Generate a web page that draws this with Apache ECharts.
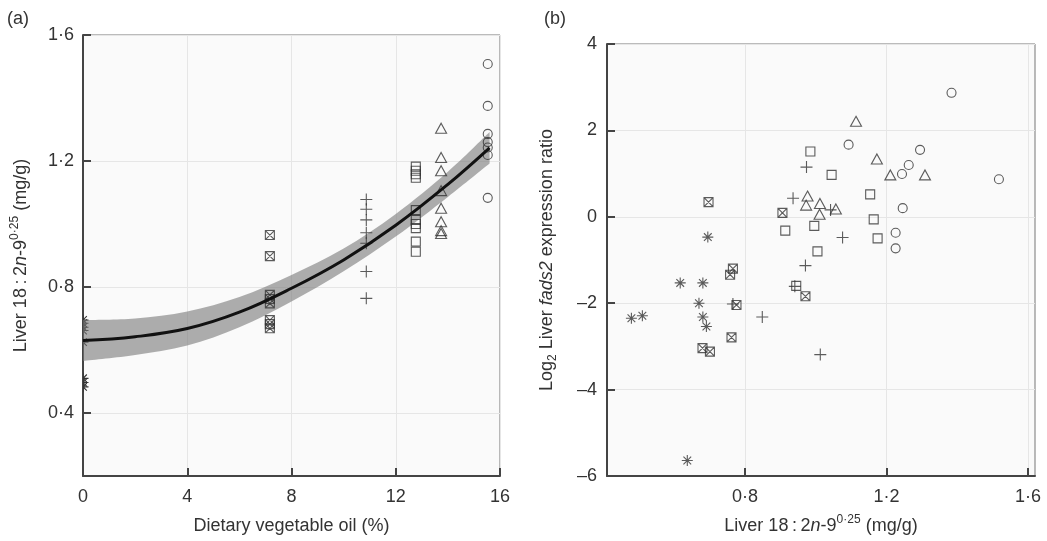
<!DOCTYPE html>
<html lang="en">
<head>
    <meta charset="UTF-8">
    <title>Liver 18:2n-9</title>
    <style>
        html, body { margin: 0; padding: 0; background: #fff; }
        .chart { width: 1047px; height: 541px; }
    </style>
</head>
<body>
    <div class="chart"></div>
    <script src="https://cdn.jsdelivr.net/npm/echarts@6/dist/echarts.min.js"></script>
    <script>
        // (a) oil level of each diet group, then liver 18:2n-9^0.25 per fish
        const oilLevels = [0, 7.17, 10.87, 12.77, 13.74, 15.53]
        const liverAsterisk = [0.695, 0.685, 0.672, 0.662, 0.625, 0.510, 0.497, 0.483]
        const liverXSquare = [0.965, 0.898, 0.775, 0.762, 0.748, 0.695, 0.682, 0.669]
        const liverPlus = [1.078, 1.047, 1.013, 0.972, 0.939, 0.849, 0.764]
        const liverSquare = [1.182, 1.169, 1.158, 1.147, 1.044, 1.013, 1.000, 0.987, 0.944, 0.912]
        const liverTriangle = [1.304, 1.211, 1.169, 1.106, 1.050, 1.007, 0.979, 0.970]
        const liverCircle = [1.508, 1.375, 1.286, 1.260, 1.243, 1.219, 1.083]

        // fitted curve with its confidence band
        const fitOil = [0, 2, 4, 6, 8, 10, 12, 14, 15.6]
        const fitMid = [0.630, 0.642, 0.668, 0.720, 0.796, 0.886, 0.996, 1.126, 1.242]
        const fitUpper = [0.695, 0.700, 0.722, 0.768, 0.838, 0.922, 1.032, 1.166, 1.292]
        const fitLower = [0.565, 0.584, 0.614, 0.672, 0.754, 0.850, 0.960, 1.086, 1.192]

        // (b) liver 18:2n-9^0.25 vs log2 fads2 ratio
        const bCircleX = [1.384, 1.093, 1.295, 1.263, 1.244, 1.518, 1.246, 1.226, 1.226]
        const bCircleY = [2.87, 1.67, 1.55, 1.20, 0.99, 0.87, 0.20, -0.37, -0.73]
        const bTriangleX = [1.114, 1.173, 1.211, 1.309, 0.977, 0.973, 1.012, 1.011, 1.057]
        const bTriangleY = [2.21, 1.34, 0.97, 0.97, 0.48, 0.27, 0.31, 0.06, 0.18]
        const bSquareX = [0.985, 1.045, 1.154, 1.164, 0.914, 0.996, 1.175, 1.005, 0.945]
        const bSquareY = [1.51, 0.97, 0.52, -0.06, -0.32, -0.21, -0.50, -0.80, -1.60]
        const bPlusX = [0.974, 0.936, 1.042, 1.076, 0.971, 0.941, 0.849, 1.013, 0.766]
        const bPlusY = [1.15, 0.43, 0.16, -0.48, -1.13, -1.61, -2.32, -3.19, -2.02]
        const bXSquareX = [0.697, 0.906, 0.766, 0.758, 0.776, 0.762, 0.680, 0.701, 0.971]
        const bXSquareY = [0.34, 0.09, -1.20, -1.34, -2.04, -2.79, -3.04, -3.12, -1.84]
        const bAsteriskX = [0.695, 0.617, 0.681, 0.670, 0.479, 0.510, 0.681, 0.691, 0.637]
        const bAsteriskY = [-0.47, -1.53, -1.53, -2.00, -2.35, -2.29, -2.32, -2.54, -5.64]

        const FONT = '"Liberation Sans", Arial, sans-serif'
        const INK = '#333'
        const ASTERISK = 'M5,0L5,10M0,5L10,5M1.5,1.5L8.5,8.5M1.5,8.5L8.5,1.5'

        const SYM = {
            circle: { symbol: 'circle', size: 9 },
            triangle: { symbol: 'path://M5,0L10,8.66L0,8.66Z', size: [11, 10] },
            square: { symbol: 'path://M0,0L10,0L10,10L0,10Z', size: 9 },
            plus: { symbol: 'path://M5,0L5,10M0,5L10,5', size: 12 },
            xsquare: { symbol: 'path://M0,0L10,0L10,10L0,10ZM0,0L10,10M0,10L10,0', size: 9 },
            asterisk: { symbol: 'path://' + ASTERISK, size: 11 }
        }

        function scatter (idx, kind, data) {
            return {
                type: 'scatter',
                xAxisIndex: idx,
                yAxisIndex: idx,
                symbol: SYM[kind].symbol,
                symbolSize: SYM[kind].size,
                itemStyle: { color: 'rgba(0,0,0,0)', borderColor: INK, borderWidth: 1.1 },
                silent: true,
                data
            }
        }

        // catmull-rom segments through pixel points (for the band outline)
        function curveTo (pts) {
            let d = ''
            for (let i = 0; i < pts.length - 1; i++) {
                const p0 = pts[i - 1] || pts[i]
                const p1 = pts[i]
                const p2 = pts[i + 1]
                const p3 = pts[i + 2] || p2
                const c1 = [p1[0] + (p2[0] - p0[0]) / 6, p1[1] + (p2[1] - p0[1]) / 6]
                const c2 = [p2[0] - (p3[0] - p1[0]) / 6, p2[1] - (p3[1] - p1[1]) / 6]
                d += `C${c1[0]},${c1[1]},${c2[0]},${c2[1]},${p2[0]},${p2[1]}`
            }
            return d
        }

        const dot = v => v.toFixed(1).replace('.', '\u00b7')

        const labelStyle = { color: '#333', fontSize: 18, fontFamily: FONT }
        const nameRich = {
            r: { fontSize: 18, fontFamily: FONT, color: '#333', lineHeight: 24 },
            i: { fontSize: 18, fontFamily: FONT, color: '#333', fontStyle: 'italic', lineHeight: 24 },
            s: { fontSize: 12, fontFamily: FONT, color: '#333', verticalAlign: 'top', lineHeight: 12 },
            b: { fontSize: 12, fontFamily: FONT, color: '#333', verticalAlign: 'bottom', lineHeight: 12 }
        }
        const liverName = '{r|Liver 18\u2009:\u20092}{i|n}{r|-9}{s|0\u00b725}{r| (mg/g)}'

        function axisCommon (extra) {
            return Object.assign({
                type: 'value',
                axisLine: { show: true, onZero: false, lineStyle: { color: '#444', width: 2 } },
                splitLine: { show: true, lineStyle: { color: '#e6e6e6', width: 1 } },
                nameLocation: 'middle',
                nameTextStyle: { rich: nameRich }
            }, extra)
        }

        const pairs = (xs, ys) => xs.map((x, i) => [x, ys[i]])
        const atOil = (oil, ys) => ys.map(y => [oil, y])

        const chart = echarts.init(document.querySelector('.chart'))
        chart.setOption({
            animation: false,
            backgroundColor: '#fff',
            title: [
                { text: '(a)', left: 2, top: 5, textStyle: { fontSize: 18, fontWeight: 'normal', color: '#333', fontFamily: FONT } },
                { text: '(b)', left: 539, top: 5, textStyle: { fontSize: 18, fontWeight: 'normal', color: '#333', fontFamily: FONT } }
            ],
            grid: [
                { left: 83, top: 35, width: 417, height: 441, show: true, backgroundColor: '#fafafa', borderColor: '#777', borderWidth: 1 },
                { left: 607, top: 44, width: 428, height: 432, show: true, backgroundColor: '#fafafa', borderColor: '#777', borderWidth: 1 }
            ],
            xAxis: [
                axisCommon({
                    gridIndex: 0, min: 0, max: 16, interval: 2,
                    axisTick: { show: true, inside: true, length: 8, customValues: [0, 4, 8, 12, 16], lineStyle: { color: '#444', width: 2 } },
                    axisLabel: Object.assign({ customValues: [0, 4, 8, 12, 16], margin: 12 }, labelStyle),
                    name: '{r|Dietary vegetable oil (%)}', nameGap: 38
                }),
                axisCommon({
                    gridIndex: 1, min: 0.41, max: 1.62, splitNumber: 6,
                    axisTick: { show: true, inside: true, length: 8, customValues: [0.8, 1.2, 1.6], lineStyle: { color: '#444', width: 2 } },
                    axisLabel: Object.assign({ customValues: [0.8, 1.2, 1.6], margin: 12, formatter: v => dot(v) }, labelStyle),
                    name: liverName, nameGap: 38
                })
            ],
            yAxis: [
                axisCommon({
                    gridIndex: 0, min: 0.2, max: 1.6, interval: 0.2,
                    axisTick: { show: true, inside: true, length: 8, customValues: [0.4, 0.8, 1.2, 1.6], lineStyle: { color: '#444', width: 2 } },
                    axisLabel: Object.assign({ customValues: [0.4, 0.8, 1.2, 1.6], margin: 9, formatter: v => dot(v) }, labelStyle),
                    name: liverName, nameGap: 50, nameRotate: 90
                }),
                axisCommon({
                    gridIndex: 1, min: -6, max: 4, interval: 1,
                    axisTick: { show: true, inside: true, length: 8, customValues: [-6, -4, -2, 0, 2, 4], lineStyle: { color: '#444', width: 2 } },
                    axisLabel: Object.assign({ customValues: [-6, -4, -2, 0, 2, 4], margin: 10, formatter: v => String(v).replace('-', '\u2013') }, labelStyle),
                    name: '{r|Log}{b|2}{r| Liver }{i|fads2}{r| expression ratio}', nameGap: 48, nameRotate: 90
                })
            ],
            series: [
                // the 0 % group sits on the axis, so it is cut by the plot edge
                {
                    type: 'custom', xAxisIndex: 0, yAxisIndex: 0, silent: true,
                    data: atOil(oilLevels[0], liverAsterisk),
                    renderItem (params, api) {
                        const p = api.coord([api.value(0), api.value(1)])
                        const s = SYM.asterisk.size
                        const cs = params.coordSys
                        return {
                            type: 'path',
                            shape: { pathData: ASTERISK, x: p[0] - s / 2, y: p[1] - s / 2, width: s, height: s },
                            style: { fill: 'none', stroke: INK, lineWidth: 1.1 },
                            clipPath: { type: 'rect', shape: { x: cs.x, y: cs.y, width: cs.width, height: cs.height } }
                        }
                    }
                },
                scatter(0, 'xsquare', atOil(oilLevels[1], liverXSquare)),
                scatter(0, 'plus', atOil(oilLevels[2], liverPlus)),
                scatter(0, 'square', atOil(oilLevels[3], liverSquare)),
                scatter(0, 'triangle', atOil(oilLevels[4], liverTriangle)),
                scatter(0, 'circle', atOil(oilLevels[5], liverCircle)),
                {
                    type: 'custom', xAxisIndex: 0, yAxisIndex: 0, silent: true,
                    data: [[fitOil[0], fitMid[0]]],
                    renderItem (params, api) {
                        const up = fitOil.map((x, i) => api.coord([x, fitUpper[i]]))
                        const lo = fitOil.map((x, i) => api.coord([x, fitLower[i]])).reverse()
                        const d = `M${up[0][0]},${up[0][1]}` + curveTo(up) +
                            `L${lo[0][0]},${lo[0][1]}` + curveTo(lo) + 'Z'
                        return {
                            type: 'path',
                            shape: { pathData: d },
                            style: { fill: 'rgba(120,120,120,0.6)', stroke: null }
                        }
                    }
                },
                {
                    type: 'line', xAxisIndex: 0, yAxisIndex: 0, smooth: 0.4,
                    symbol: 'none', silent: true,
                    lineStyle: { color: '#111', width: 3 },
                    data: pairs(fitOil, fitMid)
                },
                scatter(1, 'circle', pairs(bCircleX, bCircleY)),
                scatter(1, 'triangle', pairs(bTriangleX, bTriangleY)),
                scatter(1, 'square', pairs(bSquareX, bSquareY)),
                scatter(1, 'plus', pairs(bPlusX, bPlusY)),
                scatter(1, 'xsquare', pairs(bXSquareX, bXSquareY)),
                scatter(1, 'asterisk', pairs(bAsteriskX, bAsteriskY))
            ]
        })
    </script>
</body>
</html>
